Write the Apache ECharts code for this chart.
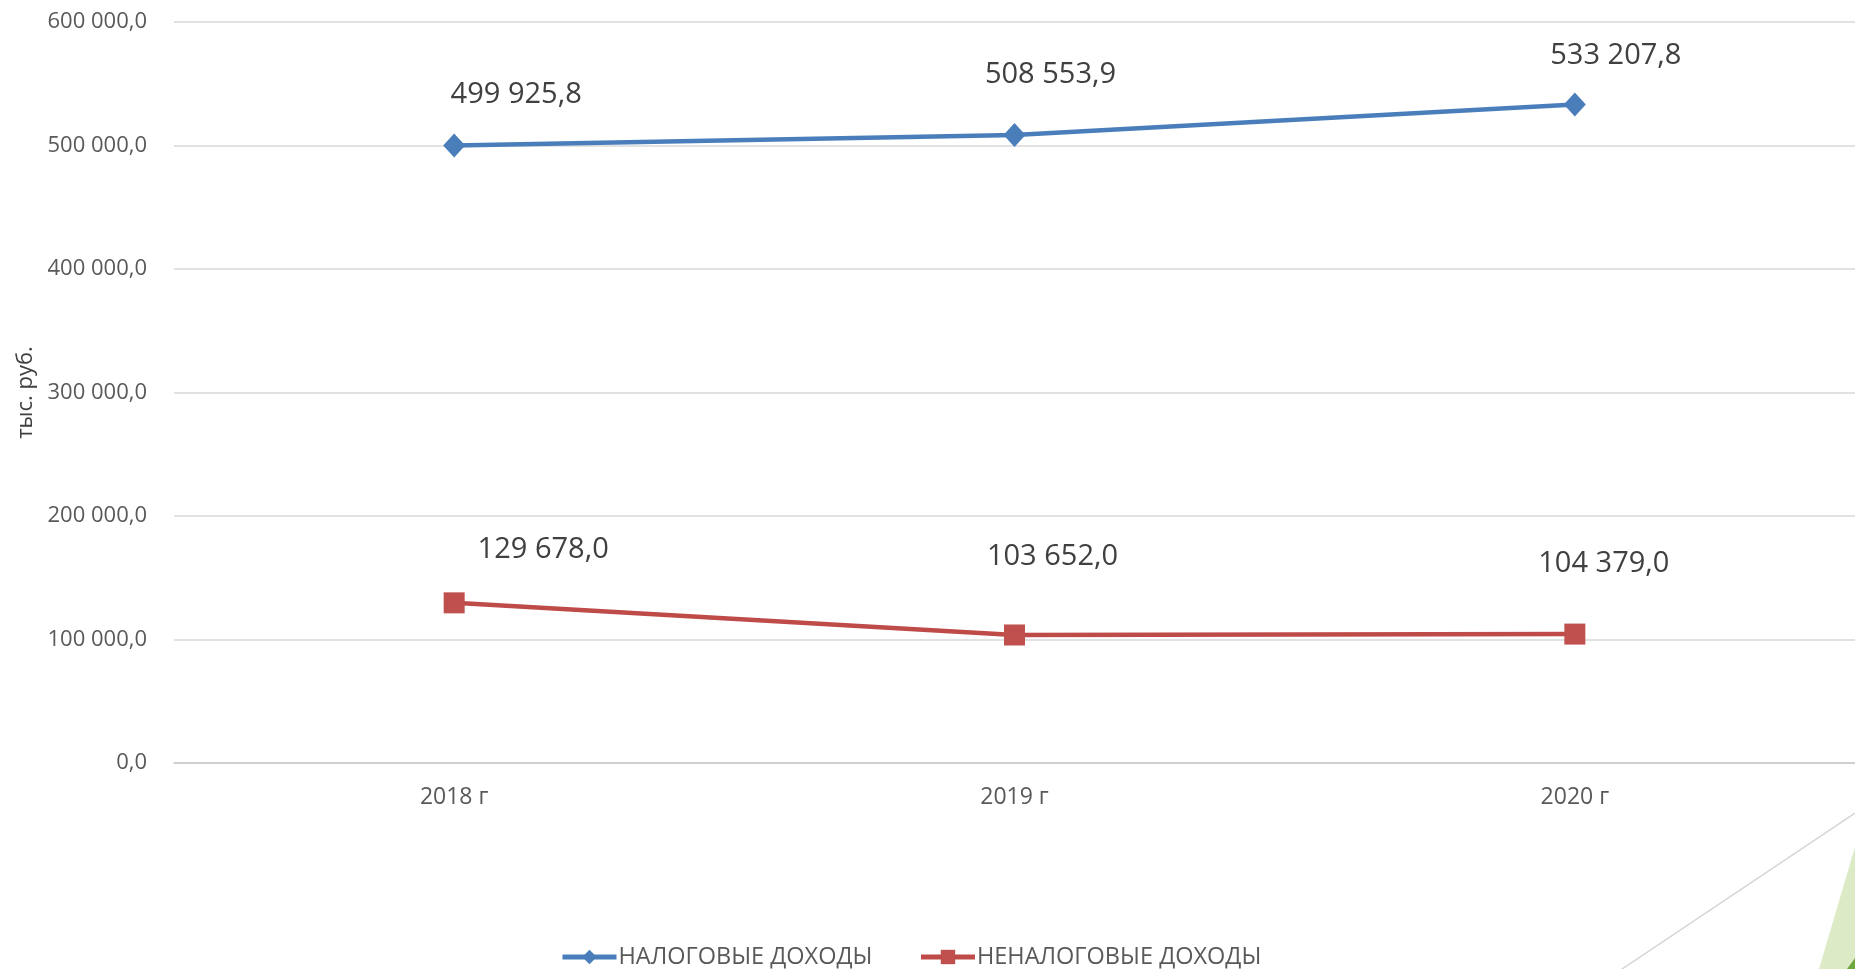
<!DOCTYPE html>
<html>
<head>
<meta charset="utf-8">
<script src="https://cdn.jsdelivr.net/npm/echarts@6/dist/echarts.min.js"></script>
<style>
html,body{margin:0;padding:0;background:#fff;}
#chart{width:1855px;height:969px;}
</style>
</head>
<body>
<div id="chart"></div>
<script>
const categories = ['2018 г', '2019 г', '2020 г'];
const taxIncome = [499925.8, 508553.9, 533207.8];
const nonTaxIncome = [129678.0, 103652.0, 104379.0];
const seriesNames = ['НАЛОГОВЫЕ ДОХОДЫ', 'НЕНАЛОГОВЫЕ ДОХОДЫ'];
const yAxisTitle = 'тыс. руб.';
const yMin = 0, yMax = 600000, yStep = 100000;

function fmt(v) {
  const s = Number(v).toFixed(1);
  const parts = s.split('.');
  const intPart = parts[0].replace(/\B(?=(\d{3})+(?!\d))/g, ' ');
  return intPart + ',' + parts[1];
}

const taxOffsets = [[62, -51], [36, -60], [41, -49]];
const nonTaxOffsets = [[89, -53], [38, -78], [29, -70]];

const FONT = 'Open Sans';
const chart = echarts.init(document.getElementById('chart'), null, {renderer: 'canvas'});

function buildData(values, offsets) {
  return values.map((v, i) => ({
    value: v,
    label: {offset: offsets[i]}
  }));
}

const option = {
  backgroundColor: '#ffffff',
  animation: false,
  grid: {left: 174, top: 22, width: 1683, bottom: 206, containLabel: false},
  xAxis: {
    type: 'category',
    data: categories,
    boundaryGap: true,
    axisLine: {show: true, lineStyle: {color: '#c9c9c9', width: 1.5}},
    axisTick: {show: false},
    axisLabel: {color: '#595959', fontFamily: FONT, fontSize: 23, margin: 23}
  },
  yAxis: {
    type: 'value',
    min: yMin, max: yMax, interval: yStep,
    name: yAxisTitle,
    nameLocation: 'middle',
    nameRotate: 90,
    nameGap: 136,
    nameTextStyle: {color: '#404040', fontFamily: FONT, fontSize: 22},
    axisLine: {show: false},
    axisTick: {show: false},
    splitLine: {lineStyle: {color: '#d9d9d9', width: 1.5}},
    axisLabel: {color: '#595959', fontFamily: FONT, fontSize: 22, margin: 27, formatter: fmt}
  },
  legend: {
    data: [
      {name: seriesNames[0], lineStyle: {width: 5}},
      {name: seriesNames[1], lineStyle: {width: 5}}
    ],
    left: 555,
    top: 940,
    itemWidth: 54,
    itemHeight: 18,
    itemGap: 46,
    lineStyle: {width: 5},
    textStyle: {color: '#595959', fontFamily: FONT, fontSize: 23.5, padding: [0, 0, 0, -3]}
  },
  series: [
    {
      name: seriesNames[0],
      type: 'line',
      data: buildData(taxIncome, taxOffsets),
      symbol: 'diamond',
      symbolSize: [22, 24],
      lineStyle: {color: '#4A7EBB', width: 4.5},
      itemStyle: {color: '#4A7EBB'},
      label: {
        show: true, position: 'inside',
        color: '#404040', fontFamily: FONT, fontSize: 29,
        formatter: p => fmt(p.value)
      }
    },
    {
      name: seriesNames[1],
      type: 'line',
      data: buildData(nonTaxIncome, nonTaxOffsets),
      symbol: 'rect',
      symbolSize: 21,
      lineStyle: {color: '#BE4B48', width: 4.5},
      itemStyle: {color: '#C0504D'},
      label: {
        show: true, position: 'inside',
        color: '#404040', fontFamily: FONT, fontSize: 29,
        formatter: p => fmt(p.value)
      }
    }
  ],
  graphic: [
    {type: 'line', silent: true, shape: {x1: 1622, y1: 969, x2: 1855, y2: 813},
     style: {stroke: '#d4d4d4', lineWidth: 1.5}},
    {type: 'polygon', silent: true, shape: {points: [[1819, 969], [1855, 847], [1855, 969]]},
     style: {fill: '#dcebc6'}},
    {type: 'polygon', silent: true, shape: {points: [[1847, 969], [1855, 958], [1855, 969]]},
     style: {fill: '#6fa83f'}}
  ]
};
chart.setOption(option);
</script>
</body>
</html>
